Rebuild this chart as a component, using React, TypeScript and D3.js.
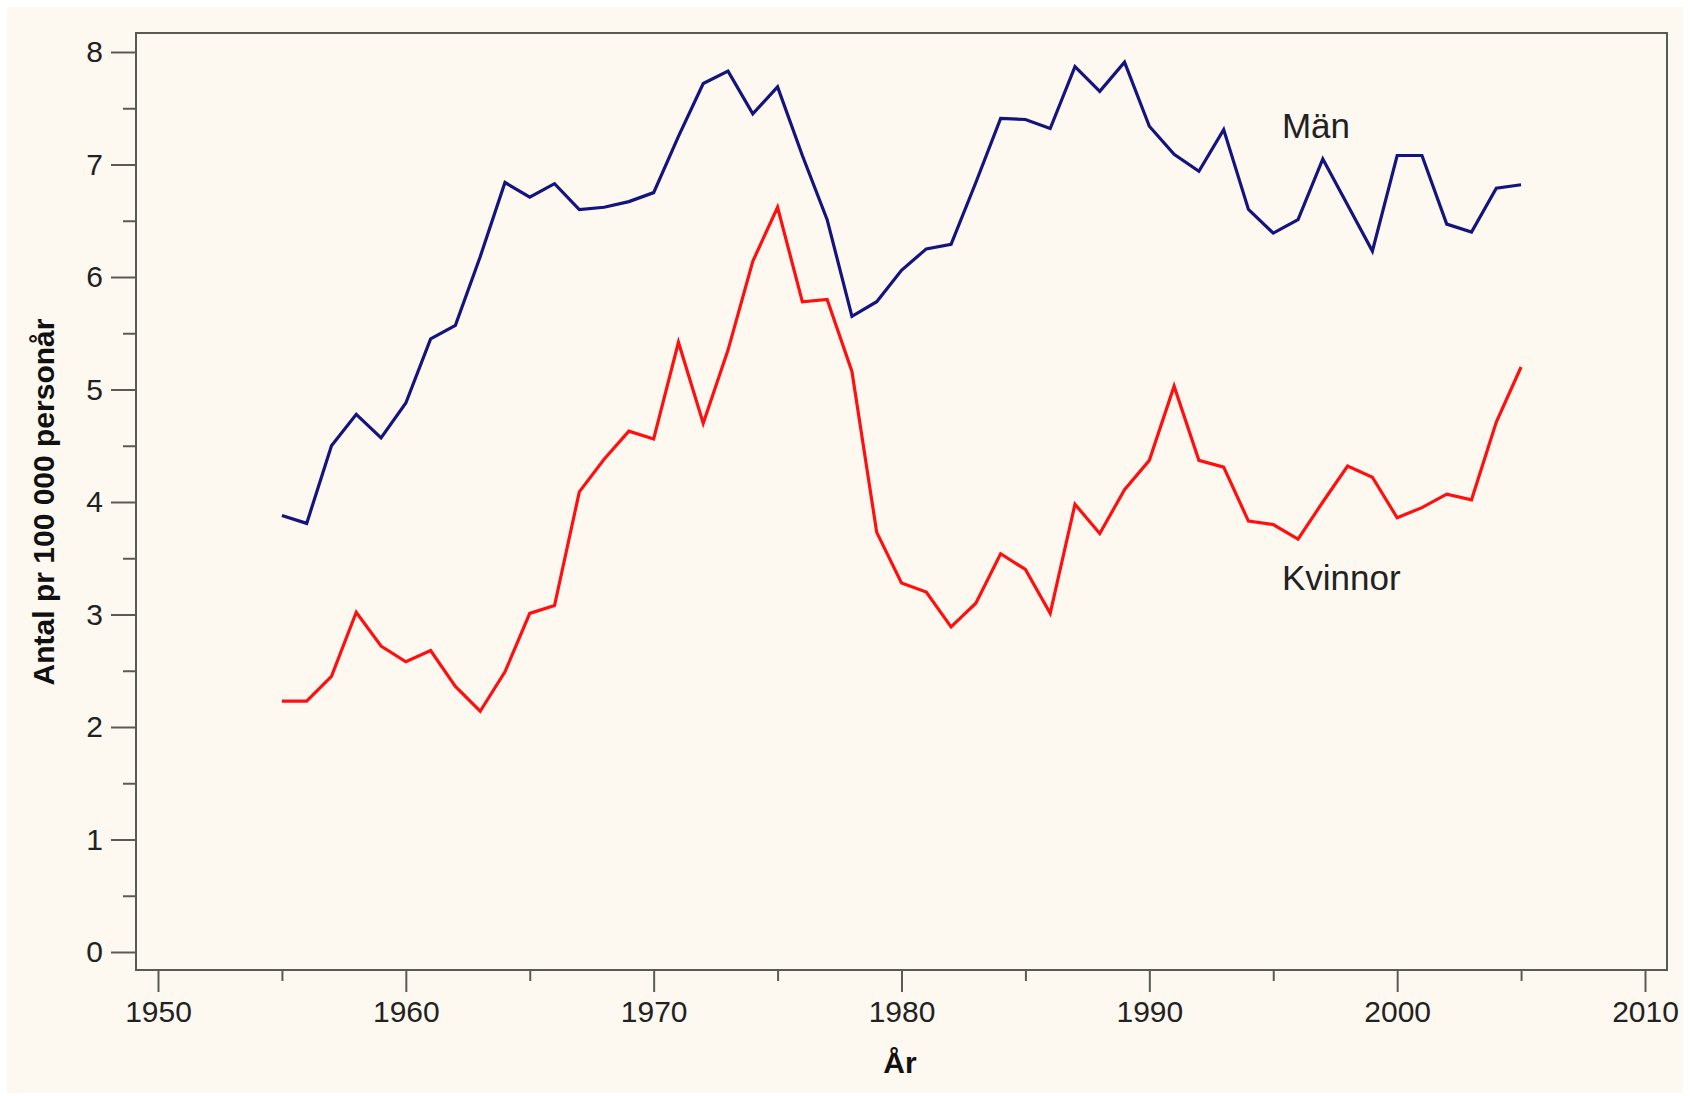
import * as d3 from "d3";
import { useEffect, useRef } from "react";

const years = d3.range(1955, 2006);

const man = [
  3.88, 3.81, 4.5, 4.78, 4.57, 4.88, 5.45, 5.57, 6.18, 6.84,
  6.71, 6.83, 6.6, 6.62, 6.67, 6.75, 7.25, 7.72, 7.83, 7.45,
  7.69, 7.08, 6.51, 5.65, 5.78, 6.06, 6.25, 6.29, 6.84, 7.41,
  7.4, 7.32, 7.87, 7.65, 7.91, 7.34, 7.09, 6.94, 7.31, 6.6,
  6.39, 6.51, 7.05, 6.64, 6.23, 7.08, 7.08, 6.47, 6.4, 6.79,
  6.82,
];

const kvinnor = [
  2.23, 2.23, 2.45, 3.02, 2.72, 2.58, 2.68, 2.36, 2.14, 2.49,
  3.01, 3.08, 4.09, 4.38, 4.63, 4.56, 5.42, 4.7, 5.35, 6.14,
  6.62, 5.78, 5.8, 5.16, 3.73, 3.28, 3.2, 2.89, 3.1, 3.54,
  3.4, 3.01, 3.98, 3.72, 4.11, 4.37, 5.03, 4.37, 4.31, 3.83,
  3.8, 3.67, 4.0, 4.32, 4.22, 3.86, 3.95, 4.07, 4.02, 4.71,
  5.2,
];

const xMajor = [1950, 1960, 1970, 1980, 1990, 2000, 2010];
const xMinor = [1955, 1965, 1975, 1985, 1995, 2005];
const yMajor = [0, 1, 2, 3, 4, 5, 6, 7, 8];
const yMinor = [0.5, 1.5, 2.5, 3.5, 4.5, 5.5, 6.5, 7.5];

const series = [
  { name: "Män", values: man, color: "#14147f", labelYear: 1995.35, labelValue: 7.24 },
  { name: "Kvinnor", values: kvinnor, color: "#ff1010", labelYear: 1995.35, labelValue: 3.22 },
];

function App() {
  const ref = useRef(null);

  useEffect(() => {
    document.body.style.margin = "0";
    const svg = d3.select(ref.current);
    svg.selectAll("*").remove();

    const font = "'Liberation Sans', Arial, sans-serif";
    const x = d3.scaleLinear().domain([1950, 2010]).range([158, 1645]);
    const y = d3.scaleLinear().domain([0, 8]).range([952, 52]);
    const frame = { left: 136, right: 1667, top: 33, bottom: 970 };

    svg
      .append("rect")
      .attr("x", 7)
      .attr("y", 7)
      .attr("width", 1676)
      .attr("height", 1086)
      .attr("fill", "#fdf9f1");

    svg
      .append("rect")
      .attr("x", frame.left)
      .attr("y", frame.top)
      .attr("width", frame.right - frame.left)
      .attr("height", frame.bottom - frame.top)
      .attr("fill", "none")
      .attr("stroke", "#5a5a55")
      .attr("stroke-width", 2);

    // y axis
    const yAxis = svg
      .append("g")
      .attr("transform", `translate(${frame.left},0)`)
      .call(d3.axisLeft(y).tickValues(yMajor).tickSize(25).tickPadding(8).tickFormat(d3.format("d")));
    yAxis.select(".domain").remove();
    yAxis.selectAll("line").attr("stroke", "#5a5a55").attr("stroke-width", 2);
    yAxis.selectAll("text").attr("font-family", font).attr("font-size", 30).attr("fill", "#222");

    const yMin = svg
      .append("g")
      .attr("transform", `translate(${frame.left},0)`)
      .call(d3.axisLeft(y).tickValues(yMinor).tickSize(13).tickFormat(() => ""));
    yMin.select(".domain").remove();
    yMin.selectAll("line").attr("stroke", "#5a5a55").attr("stroke-width", 2);

    // x axis
    const xAxis = svg
      .append("g")
      .attr("transform", `translate(0,${frame.bottom})`)
      .call(d3.axisBottom(x).tickValues(xMajor).tickSize(22).tickPadding(9).tickFormat(d3.format("d")));
    xAxis.select(".domain").remove();
    xAxis.selectAll("line").attr("stroke", "#5a5a55").attr("stroke-width", 2);
    xAxis.selectAll("text").attr("font-family", font).attr("font-size", 30).attr("fill", "#222");

    const xMin = svg
      .append("g")
      .attr("transform", `translate(0,${frame.bottom})`)
      .call(d3.axisBottom(x).tickValues(xMinor).tickSize(11).tickFormat(() => ""));
    xMin.select(".domain").remove();
    xMin.selectAll("line").attr("stroke", "#5a5a55").attr("stroke-width", 2);

    // titles
    svg
      .append("text")
      .attr("x", 900)
      .attr("y", 1073)
      .attr("text-anchor", "middle")
      .attr("font-family", font)
      .attr("font-weight", "bold")
      .attr("font-size", 30)
      .attr("fill", "#111")
      .text("År");

    svg
      .append("text")
      .attr("transform", `translate(54,502) rotate(-90)`)
      .attr("text-anchor", "middle")
      .attr("font-family", font)
      .attr("font-weight", "bold")
      .attr("font-size", 30)
      .attr("fill", "#111")
      .text("Antal pr 100 000 personår");

    const line = d3
      .line()
      .x((d) => x(d[0]))
      .y((d) => y(d[1]));

    series.forEach((s) => {
      svg
        .append("path")
        .datum(years.map((yr, i) => [yr, s.values[i]]))
        .attr("fill", "none")
        .attr("stroke", s.color)
        .attr("stroke-width", 3.2)
        .attr("stroke-linejoin", "miter")
        .attr("d", line);

      svg
        .append("text")
        .attr("x", x(s.labelYear))
        .attr("y", y(s.labelValue))
        .attr("font-family", font)
        .attr("font-size", 35)
        .attr("fill", "#222")
        .text(s.name);
    });
  }, []);

  return <svg ref={ref} width={1690} height={1096} style={{ display: "block" }} />;
}

export default App;
